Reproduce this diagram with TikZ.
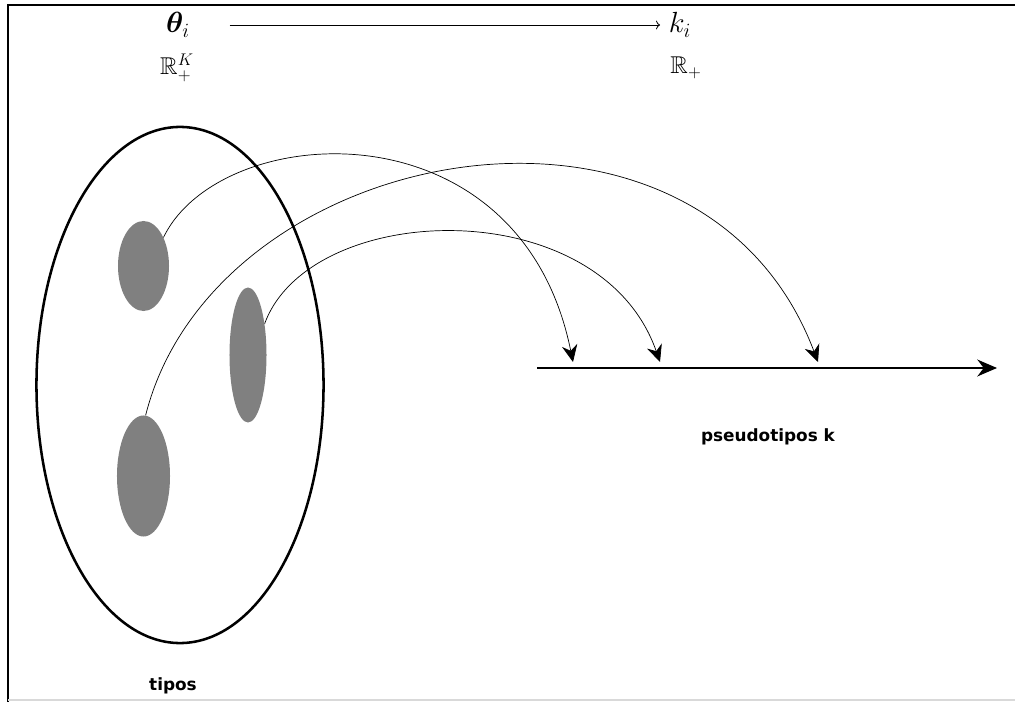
\documentclass[tikz,border=0pt]{standalone}
\usepackage{amsmath,amssymb,bm}
\usepackage{fontspec}
\newfontfamily\labelfont{DejaVu Sans}
\usetikzlibrary{arrows.meta,positioning,shapes.geometric,calc}
\definecolor{BlobGray}{RGB}{128,128,128}
\tikzset{
  blob/.style={ellipse,fill=BlobGray,draw=none,inner sep=0pt},
  typeset/.style={ellipse,draw=black,line width=1.8pt,inner sep=0pt,
    minimum width=7.175cm,minimum height=12.9cm},
  maparrow/.style={-{Stealth[length=12pt,width=11pt]},line width=0.5pt},
  axis/.style={-{Stealth[length=14pt,width=12pt]},line width=1.2pt},
  tag/.style={font=\labelfont\bfseries\large}
}

\begin{document}
\begin{tikzpicture}[x=0.025cm,y=-0.025cm]
  \useasboundingbox (0,0) rectangle (1015,702);
  % frame
  \draw[line width=1.3pt] (8,702) -- (8,5) -- (1015,5);
  \draw[black!15,line width=0.8pt] (8,700) -- (1015,700);

  % top row
  \node[inner sep=1pt] (theta) at (178,25) {\huge $\bm{\theta}_i$};
  \node[inner sep=1pt] (ki) at (680,25) {\huge $k_i$};
  \node[inner sep=1pt] (rk) at (177,68) {\LARGE $\mathbb{R}^K_+$};
  \node[inner sep=1pt] (rp) at (686,68) {\LARGE $\mathbb{R}_+$};
  \draw[->,line width=0.6pt,shorten <=27pt,shorten >=5pt] (theta) -- (ki);

  % types
  \node[typeset] (types) at (180,385) {};
  \node[blob,minimum width=1.275cm,minimum height=2.25cm] (e1) at (143.5,266) {};
  \node[blob,minimum width=0.925cm,minimum height=3.375cm] (e2) at (248,355) {};
  \node[blob,minimum width=1.325cm,minimum height=3.025cm] (e3) at (143.5,476) {};
  \node[tag] (tipos) at (173,686) {tipos};

  % pseudotypes
  \coordinate (a0) at (537,368);
  \coordinate (a1) at (997,368);
  \draw[axis] (a0) -- (a1);
  \coordinate (k1) at (573,362);
  \coordinate (k2) at (660,362);
  \coordinate (k3) at (818,362);
  \node[tag] (pseudo) at (768,437) {pseudotipos k};

  \draw[maparrow] (e1.55) .. controls (220,120) and (520,100) .. (k1);
  \draw[maparrow] (e2.62) .. controls (310,200) and (600,190) .. (k2);
  \draw[maparrow] (e3.88) .. controls (215,140) and (700,50) .. (k3);
\end{tikzpicture}
\end{document}
